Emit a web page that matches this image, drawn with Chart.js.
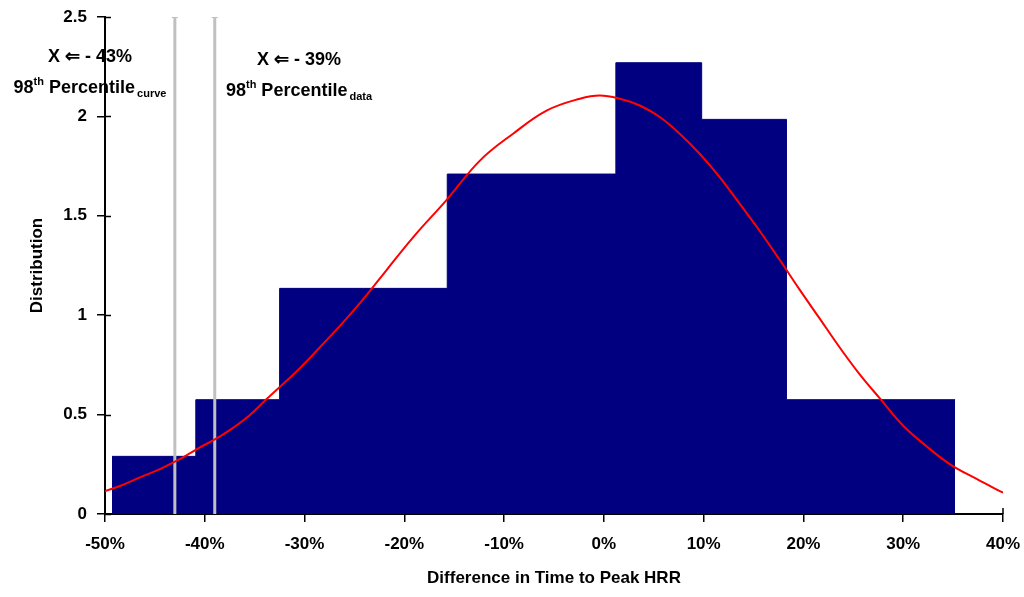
<!DOCTYPE html>
<html>
<head>
<meta charset="utf-8">
<script src="https://cdn.jsdelivr.net/npm/chart.js@4/dist/chart.umd.min.js"></script>
<style>
  html, body { margin: 0; padding: 0; background: #fff; }
  #wrap { width: 1024px; height: 597px; position: relative; }
</style>
</head>
<body>
<div id="wrap"><canvas id="c" width="1024" height="597"></canvas></div>
<script>
// ---- Data ----
const binEdges   = [-49.3, -40.9, -32.5, -24.1, -15.7, -7.3, 1.2, 9.8, 18.3, 26.7, 35.2];
const binHeights = [0.29, 0.575, 1.135, 1.135, 1.71, 1.71, 2.27, 1.985, 0.575, 0.575];

const curveX = [-50.0, -48.5, -46.5, -44.5, -43.0, -41.5, -40.5, -39.0, -37.5, -35.5, -33.8, -30.5, -27.8, -25.8, -23.8, -21.8, -19.1, -15.8, -12.4, -9.1, -5.7, -2.4, -0.4, 1.6, 3.6, 5.6, 7.6, 9.6, 11.6, 13.6, 15.6, 17.6, 19.6, 21.6, 23.6, 25.6, 27.7, 30.0, 32.4, 34.7, 37.4, 40.0];
const curveY = [0.115, 0.141, 0.184, 0.226, 0.263, 0.305, 0.335, 0.375, 0.422, 0.497, 0.578, 0.732, 0.874, 0.983, 1.10, 1.226, 1.393, 1.578, 1.779, 1.913, 2.03, 2.089, 2.105, 2.089, 2.055, 1.997, 1.913, 1.812, 1.695, 1.561, 1.425, 1.28, 1.13, 0.985, 0.84, 0.705, 0.579, 0.444, 0.338, 0.25, 0.175, 0.107];

const percentileCurve = -43;
const percentileData  = -39;

const xMin = -50, xMax = 40, xStep = 10;
const yMin = 0, yMax = 2.5, yStep = 0.5;

const xTitle = 'Difference in Time to Peak HRR';
const yTitle = 'Distribution';
const labelCurve = { main: 'X \u21D0 - 43%', num: '98', sup: 'th', word: ' Percentile', sub: 'curve' };
const labelData  = { main: 'X \u21D0 - 39%', num: '98', sup: 'th', word: ' Percentile', sub: 'data' };

// ---- Build datasets ----
const histPoints = binEdges.map((e, i) => ({ x: e, y: binHeights[Math.min(i, binHeights.length - 1)] }));
const curvePoints = curveX.map((x, i) => ({ x: x, y: curveY[i] }));
const vline = v => [{ x: v, y: yMin }, { x: v, y: yMax }];

const FONT = "'Liberation Sans', Arial, sans-serif";

const innerTicks = {
  id: 'innerTicks',
  afterDraw(chart) {
    const ctx = chart.ctx;
    const ys = chart.scales.y, xs = chart.scales.x;
    ctx.save();
    ctx.strokeStyle = '#000';
    ctx.lineWidth = 1.5;
    ys.ticks.forEach(t => {
      const py = Math.round(ys.getPixelForValue(t.value)) + 0.5;
      ctx.beginPath();
      ctx.moveTo(ys.right, py);
      ctx.lineTo(ys.right + 6, py);
      ctx.stroke();
    });
    const px = xs.getPixelForValue(xMax);
    ctx.beginPath();
    ctx.moveTo(px, xs.top);
    ctx.lineTo(px, xs.top - 6);
    ctx.stroke();
    ctx.restore();
  }
};

const labels = {
  id: 'pctLabels',
  afterDraw(chart) {
    const ctx = chart.ctx;
    ctx.save();
    ctx.fillStyle = '#000';
    ctx.textBaseline = 'middle';
    function drawLabel(lab, cx, yMain, yPct) {
      ctx.font = 'bold 18px ' + FONT;
      ctx.textAlign = 'center';
      ctx.fillText(lab.main, cx, yMain);
      ctx.textAlign = 'left';
      const bigF = 'bold 18px ' + FONT, smallF = 'bold 11px ' + FONT;
      ctx.font = bigF; const wNum = ctx.measureText(lab.num).width;
      ctx.font = smallF; const wSup = ctx.measureText(lab.sup).width;
      ctx.font = bigF; const wWord = ctx.measureText(lab.word).width;
      ctx.font = smallF; const wSub = ctx.measureText(lab.sub).width;
      const total = wNum + wSup + wWord + wSub + 2;
      let x = cx - total / 2;
      ctx.font = bigF; ctx.fillText(lab.num, x, yPct); x += wNum;
      ctx.font = smallF; ctx.fillText(lab.sup, x, yPct - 6); x += wSup;
      ctx.font = bigF; ctx.fillText(lab.word, x, yPct); x += wWord + 2;
      ctx.font = smallF; ctx.fillText(lab.sub, x, yPct + 6);
    }
    drawLabel(labelCurve, 90, 57, 88);
    drawLabel(labelData, 299, 60, 91);
    ctx.restore();
  }
};

new Chart(document.getElementById('c'), {
  type: 'line',
  data: {
    datasets: [
      {
        label: 'Normal curve',
        data: curvePoints,
        borderColor: '#ff0000',
        borderWidth: 2,
        pointRadius: 0,
        fill: false,
        tension: 0.4,
        order: 0
      },
      {
        label: '98th Percentile curve',
        data: vline(percentileCurve),
        borderColor: '#c0c0c0',
        backgroundColor: '#c0c0c0',
        borderWidth: 3,
        pointStyle: 'line',
        pointRadius: [0, 3],
        pointBorderColor: '#c0c0c0',
        pointBorderWidth: 2,
        fill: false,
        order: 1
      },
      {
        label: '98th Percentile data',
        data: vline(percentileData),
        borderColor: '#c0c0c0',
        backgroundColor: '#c0c0c0',
        borderWidth: 3,
        pointStyle: 'line',
        pointRadius: [0, 3],
        pointBorderColor: '#c0c0c0',
        pointBorderWidth: 2,
        fill: false,
        order: 1
      },
      {
        label: 'Histogram',
        data: histPoints,
        stepped: 'before',
        borderColor: '#000080',
        backgroundColor: '#000080',
        borderWidth: 1,
        pointRadius: 0,
        fill: 'origin',
        order: 2
      }
    ]
  },
  options: {
    responsive: false,
    animation: false,
    events: [],
    layout: { padding: { left: 0, right: 21, top: 17, bottom: 0 } },
    plugins: { legend: { display: false }, tooltip: { enabled: false } },
    scales: {
      x: {
        type: 'linear',
        min: xMin, max: xMax,
        afterFit(s) { s.height = 83; s.paddingRight = 0; s.paddingLeft = 0; },
        border: { display: true, color: '#000', width: 2 },
        grid: { display: true, drawOnChartArea: false, drawTicks: true, tickLength: 8, color: '#000', lineWidth: 1.5 },
        ticks: {
          stepSize: xStep,
          color: '#000',
          padding: 12,
          maxRotation: 0,
          font: { family: FONT, size: 17, weight: 'bold' },
          callback: v => v + '%'
        },
        title: {
          display: true, text: xTitle, color: '#000',
          font: { family: FONT, size: 17, weight: 'bold' },
          padding: { top: 0, bottom: 8 }
        }
      },
      y: {
        type: 'linear',
        min: yMin, max: yMax,
        afterFit(s) { s.width = 105; s.paddingTop = 0; s.paddingBottom = 0; },
        border: { display: true, color: '#000', width: 2 },
        grid: { display: true, drawOnChartArea: false, drawTicks: true, tickLength: 8, color: '#000', lineWidth: 1.5 },
        ticks: {
          stepSize: yStep,
          color: '#000',
          padding: 10,
          font: { family: FONT, size: 17, weight: 'bold' },
          callback: v => String(v)
        },
        title: {
          display: true, text: yTitle, color: '#000',
          font: { family: FONT, size: 17, weight: 'bold' },
          padding: { top: 27, bottom: 0 }
        }
      }
    }
  },
  plugins: [innerTicks, labels]
});
</script>
</body>
</html>
